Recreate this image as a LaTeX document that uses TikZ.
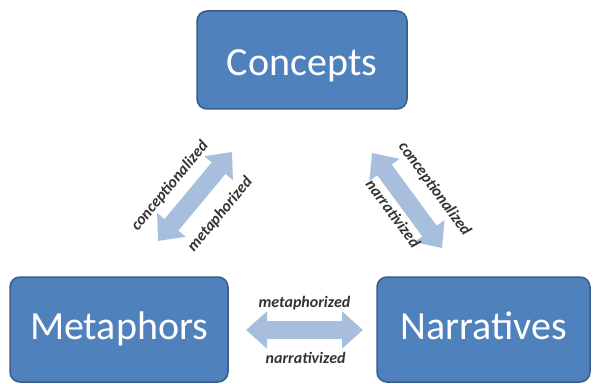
\documentclass[tikz,border=0pt]{standalone}
\usepackage{fontspec}
\setmainfont{Carlito}
\usepackage{tikz}
\usetikzlibrary{arrows.meta}

\definecolor{boxblue}{HTML}{4F81BD}
\definecolor{boxedge}{HTML}{385D8A}
\definecolor{arrowblue}{HTML}{A7BEDD}
\definecolor{labelgray}{HTML}{333333}

\begin{document}
\begin{tikzpicture}[x=1pt,y=1pt,
  concept/.style={draw=boxedge, line width=1.5pt, fill=boxblue, rounded corners=10pt,
    text=white, text depth=7.6pt, font=\fontsize{40}{40}\selectfont},
  twoway/.style={draw=arrowblue, line width=18pt,
    {Triangle[width=36pt,length=21pt]}-{Triangle[width=36pt,length=21pt]}},
  verb/.style={font=\fontsize{16}{16}\selectfont\bfseries\itshape, text=labelgray,
    inner sep=0pt, outer sep=0pt, sloped}]
\useasboundingbox (0,0) rectangle (593,383);

% the three boxes
\node[concept, text height=38pt, minimum width=210pt, minimum height=98pt] (Concepts) at (302,323) {Concepts};
\node[concept, minimum width=218pt, minimum height=105pt] (Metaphors) at (119,53.5) {Metaphors};
\node[concept, minimum width=213pt, minimum height=105pt] (Narratives) at (483.5,53.5) {Narratives};

% ends of the arrows
\coordinate (cmA) at (158,142);
\coordinate (cmB) at (232,231);
\coordinate (cnA) at (372,230);
\coordinate (cnB) at (442,135);
\coordinate (mnA) at (246,53);
\coordinate (mnB) at (363,53);

% two-way arrows with their verbs
\draw[twoway] (cmA) -- (cmB)
  node[verb, pos=0.43, above=19pt] (cmUp) {conceptionalized}
  node[verb, pos=0.52, below=24pt] (cmDown) {metaphorized};
\draw[twoway] (cnA) -- (cnB)
  node[verb, pos=0.56, above=22pt] (cnUp) {conceptionalized}
  node[verb, pos=0.52, below=13pt] (cnDown) {narrativized};
\draw[twoway] (mnA) -- (mnB)
  node[verb, pos=0.50, above=20pt] (mnUp) {metaphorized}
  node[verb, pos=0.51, below=22pt] (mnDown) {narrativized};
\end{tikzpicture}
\end{document}
